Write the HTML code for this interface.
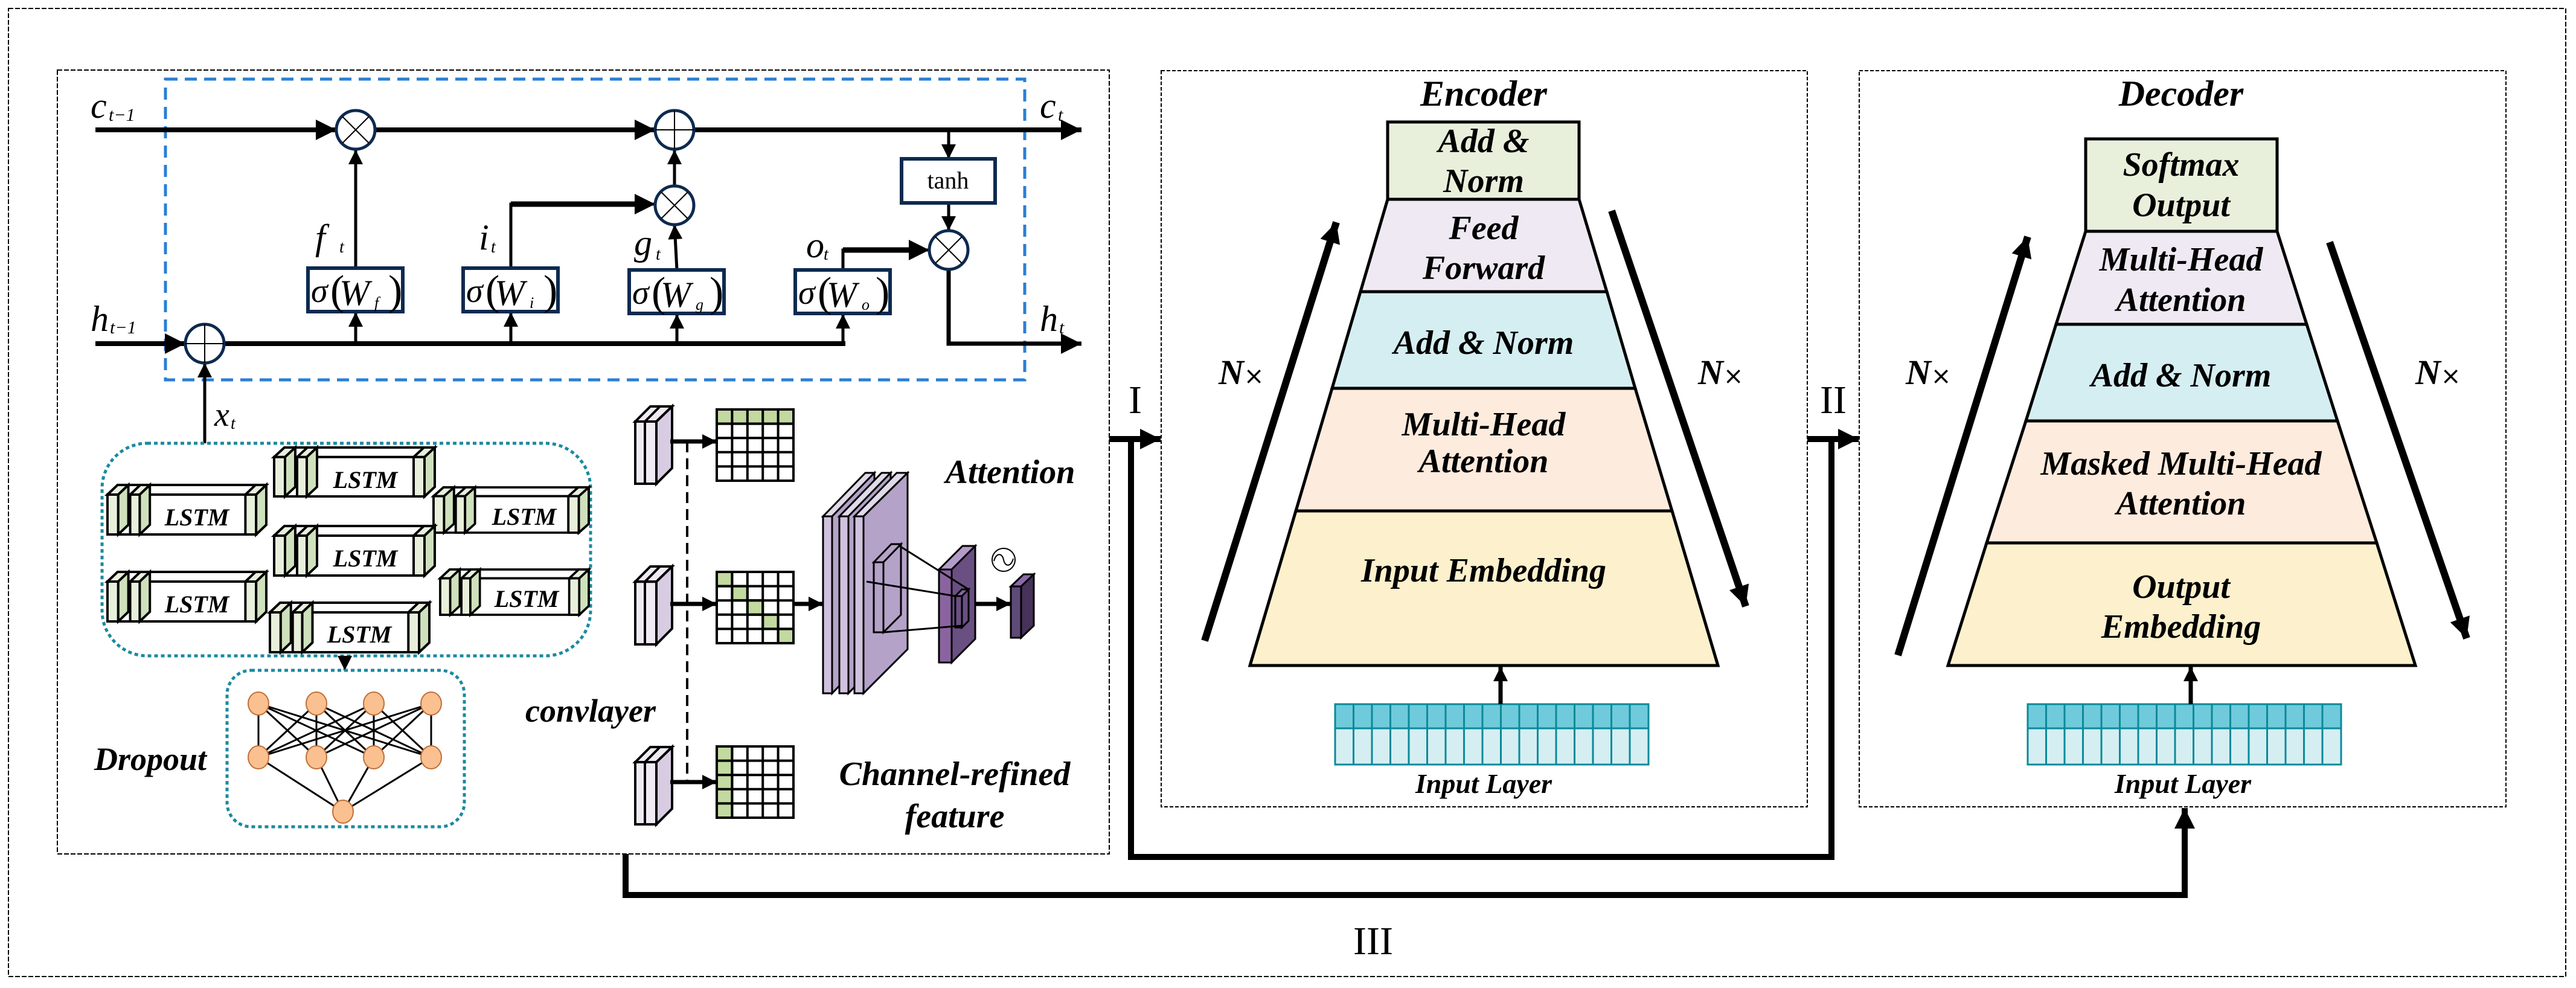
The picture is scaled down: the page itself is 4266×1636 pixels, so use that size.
<!DOCTYPE html>
<html><head><meta charset="utf-8"><style>
html,body{margin:0;padding:0;background:#fff;}
svg{display:block;}
text{font-family:"Liberation Serif",serif;}
.b{font-weight:bold;font-style:italic;}
.i{font-style:italic;}
</style></head><body>
<svg width="4266" height="1636" viewBox="0 0 4266 1636" xmlns="http://www.w3.org/2000/svg">
<defs>
<marker id="ah" viewBox="0 0 10 10" refX="10" refY="5" markerWidth="26" markerHeight="24" markerUnits="userSpaceOnUse" orient="auto"><path d="M0,0 L10,5 L0,10 z" fill="#000"/></marker>
<marker id="ahb" viewBox="0 0 10 10" refX="10" refY="5" markerWidth="36" markerHeight="34" markerUnits="userSpaceOnUse" orient="auto"><path d="M0,0 L10,5 L0,10 z" fill="#000"/></marker>
<symbol id="lstm" viewBox="0 0 266 82" overflow="visible" preserveAspectRatio="none">
 <g stroke="#000" stroke-width="4" stroke-linejoin="miter">
  <polygon points="0,16 17,0 266,0 249,16" fill="#fff"/>
  <polygon points="249,16 266,0 266,66 249,82" fill="#fff"/>
  <rect x="0" y="16" width="249" height="66" fill="#fff"/>
  <polygon points="0,16 17,0 35,0 18,16" fill="#e8f0dc"/>
  <rect x="0" y="16" width="18" height="66" fill="#e8f0dc"/>
  <polygon points="18,16 35,0 35,66 18,82" fill="#cfe0bc"/>
  <polygon points="38,16 55,0 71,0 54,16" fill="#e8f0dc"/>
  <rect x="38" y="16" width="16" height="66" fill="#e8f0dc"/>
  <polygon points="54,16 71,0 71,66 54,82" fill="#cfe0bc"/>
  <polygon points="231,16 248,0 266,0 249,16" fill="#e8f0dc"/>
  <rect x="231" y="16" width="18" height="66" fill="#e8f0dc"/>
  <polygon points="249,16 266,0 266,66 249,82" fill="#cfe0bc"/>
 </g>
</symbol>
<symbol id="conv" viewBox="0 0 61 128" overflow="visible" preserveAspectRatio="none">
 <g stroke="#000" stroke-width="4">
  <polygon points="0,25 25,0 61,0 35,25" fill="#efeaf3"/>
  <line x1="16" y1="25" x2="41" y2="0"/>
  <rect x="0" y="25" width="35" height="103" fill="#efeaf3"/>
  <line x1="16" y1="25" x2="16" y2="128"/>
  <polygon points="35,25 61,0 61,102 35,128" fill="#d8cce2"/>
 </g>
</symbol>
</defs>

<!-- outer border -->
<rect x="14" y="14" width="4235" height="1603" fill="none" stroke="#000" stroke-width="2" stroke-dasharray="8,3"/>
<!-- left box -->
<rect x="95" y="116" width="1742" height="1298" fill="none" stroke="#000" stroke-width="2" stroke-dasharray="8,3"/>
<!-- encoder/decoder boxes -->
<rect x="1923" y="117" width="1070" height="1219" fill="none" stroke="#000" stroke-width="2" stroke-dasharray="6,3"/>
<rect x="3079" y="117" width="1071" height="1219" fill="none" stroke="#000" stroke-width="2" stroke-dasharray="6,3"/>

<!-- LSTM cell dashed -->
<rect x="274" y="131" width="1423" height="498" fill="none" stroke="#2a7fd4" stroke-width="5" stroke-dasharray="20,12"/>

<g stroke="#000" fill="none">
 <!-- c line -->
 <line x1="158" y1="215" x2="557" y2="215" stroke-width="8" marker-end="url(#ahb)"/>
 <line x1="621" y1="215" x2="1085" y2="215" stroke-width="8" marker-end="url(#ahb)"/>
 <line x1="1149" y1="215" x2="1791" y2="215" stroke-width="8" marker-end="url(#ahb)"/>
 <!-- h line -->
 <line x1="158" y1="569" x2="307" y2="569" stroke-width="8" marker-end="url(#ahb)"/>
 <line x1="371" y1="569" x2="1400" y2="569" stroke-width="8"/>
 <polyline points="1571,446 1571,569 1791,569" stroke-width="7" marker-end="url(#ahb)"/>
 <!-- gate verticals -->
 <line x1="589" y1="569" x2="589" y2="517" stroke-width="5" marker-end="url(#ah)"/>
 <line x1="846" y1="569" x2="846" y2="517" stroke-width="5" marker-end="url(#ah)"/>
 <line x1="1121" y1="569" x2="1121" y2="520" stroke-width="5" marker-end="url(#ah)"/>
 <line x1="1396" y1="569" x2="1396" y2="520" stroke-width="5" marker-end="url(#ah)"/>
 <line x1="589" y1="444" x2="589" y2="248" stroke-width="5" marker-end="url(#ah)"/>
 <polyline points="846,444 846,338 1085,338" stroke-width="5" marker-end="url(#ahb)"/>
 <polyline points="846,338 1060,338" stroke-width="9"/>
 <line x1="1121" y1="447" x2="1117" y2="372" stroke-width="5" marker-end="url(#ah)"/>
 <line x1="1117" y1="308" x2="1117" y2="248" stroke-width="5" marker-end="url(#ah)"/>
 <polyline points="1396,447 1396,414 1539,414" stroke-width="5" marker-end="url(#ahb)"/>
 <polyline points="1396,414 1515,414" stroke-width="9"/>
 <line x1="1571" y1="215" x2="1571" y2="263" stroke-width="5" marker-end="url(#ah)"/>
 <line x1="1571" y1="336" x2="1571" y2="382" stroke-width="5" marker-end="url(#ah)"/>
 <line x1="339" y1="734" x2="339" y2="601" stroke-width="5" marker-end="url(#ah)"/>
</g>
<!-- circles -->
<g stroke="#0d2a4f" stroke-width="5" fill="#fff">
 <circle cx="589" cy="215" r="32"/>
 <circle cx="1117" cy="215" r="32"/>
 <circle cx="339" cy="569" r="32"/>
 <circle cx="1117" cy="340" r="32"/>
 <circle cx="1571" cy="414" r="32"/>
</g>
<g stroke="#000" stroke-width="2">
 <line x1="567" y1="193" x2="611" y2="237"/><line x1="611" y1="193" x2="567" y2="237"/>
 <line x1="1095" y1="318" x2="1139" y2="362"/><line x1="1139" y1="318" x2="1095" y2="362"/>
 <line x1="1549" y1="392" x2="1593" y2="436"/><line x1="1593" y1="392" x2="1549" y2="436"/>
 <line x1="1085" y1="215" x2="1149" y2="215"/><line x1="1117" y1="183" x2="1117" y2="247"/>
 <line x1="307" y1="569" x2="371" y2="569"/><line x1="339" y1="537" x2="339" y2="601"/>
</g>
<!-- tanh -->
<rect x="1493" y="263" width="155" height="73" fill="#fff" stroke="#0d2a4f" stroke-width="6"/>
<text x="1570" y="312" font-size="40" text-anchor="middle">tanh</text>
<!-- sigma boxes -->
<g stroke="#0d2a4f" stroke-width="6" fill="#fff">
 <rect x="510" y="444" width="157" height="72"/>
 <rect x="767" y="444" width="157" height="72"/>
 <rect x="1042" y="447" width="157" height="72"/>
 <rect x="1317" y="447" width="157" height="72"/>
</g>
<g font-size="56">
 <text x="515" y="500" class="i">σ</text><text x="547" y="504" font-size="70">(</text><text x="562" y="505" class="i" font-size="60">W</text><text x="620" y="510" class="i" font-size="26">f</text><text x="643" y="504" font-size="70">)</text>
 <text x="772" y="500" class="i">σ</text><text x="804" y="504" font-size="70">(</text><text x="819" y="505" class="i" font-size="60">W</text><text x="877" y="510" class="i" font-size="26">i</text><text x="900" y="504" font-size="70">)</text>
 <text x="1047" y="503" class="i">σ</text><text x="1079" y="507" font-size="70">(</text><text x="1094" y="508" class="i" font-size="60">W</text><text x="1152" y="513" class="i" font-size="26">g</text><text x="1175" y="507" font-size="70">)</text>
 <text x="1322" y="503" class="i">σ</text><text x="1354" y="507" font-size="70">(</text><text x="1369" y="508" class="i" font-size="60">W</text><text x="1427" y="513" class="i" font-size="26">o</text><text x="1450" y="507" font-size="70">)</text>
</g>
<!-- math labels -->
<g class="i">
 <text x="150" y="195" font-size="60" class="i">c</text><text x="180" y="200" font-size="30" class="i">t−1</text>
 <text x="1722" y="195" font-size="60" class="i">c</text><text x="1752" y="200" font-size="30" class="i">t</text>
 <text x="150" y="548" font-size="60" class="i">h</text><text x="182" y="552" font-size="30" class="i">t−1</text>
 <text x="1722" y="548" font-size="60" class="i">h</text><text x="1754" y="552" font-size="30" class="i">t</text>
 <text x="522" y="413" font-size="60" class="i">f</text><text x="562" y="418" font-size="28" class="i">t</text>
 <text x="793" y="413" font-size="60" class="i">i</text><text x="813" y="418" font-size="28" class="i">t</text>
 <text x="1050" y="422" font-size="60" class="i">g</text><text x="1086" y="430" font-size="28" class="i">t</text>
 <text x="1335" y="426" font-size="60" class="i">o</text><text x="1364" y="430" font-size="28" class="i">t</text>
 <text x="355" y="705" font-size="56" class="i">x</text><text x="382" y="710" font-size="28" class="i">t</text>
</g>

<!-- LSTM group -->
<rect x="169" y="734" width="809" height="352" rx="75" ry="75" fill="none" stroke="#1a8aa0" stroke-width="5" stroke-dasharray="6,5"/>
<use href="#lstm" x="178" y="803" width="263" height="82"/>
<use href="#lstm" x="454" y="741" width="266" height="81"/>
<use href="#lstm" x="718" y="807" width="257" height="75"/>
<use href="#lstm" x="454" y="871" width="266" height="82"/>
<use href="#lstm" x="178" y="947" width="263" height="82"/>
<use href="#lstm" x="729" y="943" width="246" height="75"/>
<use href="#lstm" x="447" y="998" width="264" height="82"/>
<g font-size="40" class="b" text-anchor="middle">
 <text x="326" y="870">LSTM</text>
 <text x="605" y="808">LSTM</text>
 <text x="868" y="869">LSTM</text>
 <text x="605" y="938">LSTM</text>
 <text x="326" y="1014">LSTM</text>
 <text x="872" y="1005">LSTM</text>
 <text x="595" y="1064">LSTM</text>
</g>
<line x1="571" y1="1086" x2="571" y2="1110" stroke="#000" stroke-width="4" marker-end="url(#ah)"/>
<!-- dropout -->
<rect x="376" y="1110" width="393" height="259" rx="40" ry="40" fill="none" stroke="#1a8aa0" stroke-width="5" stroke-dasharray="6,5"/>
<g stroke="#000" stroke-width="3">
 <line x1="428" y1="1165" x2="428" y2="1254"/><line x1="428" y1="1165" x2="524" y2="1254"/><line x1="428" y1="1165" x2="619" y2="1254"/><line x1="428" y1="1165" x2="714" y2="1254"/>
 <line x1="524" y1="1165" x2="428" y2="1254"/><line x1="524" y1="1165" x2="524" y2="1254"/><line x1="524" y1="1165" x2="619" y2="1254"/><line x1="524" y1="1165" x2="714" y2="1254"/>
 <line x1="619" y1="1165" x2="428" y2="1254"/><line x1="619" y1="1165" x2="524" y2="1254"/><line x1="619" y1="1165" x2="619" y2="1254"/><line x1="619" y1="1165" x2="714" y2="1254"/>
 <line x1="714" y1="1165" x2="428" y2="1254"/><line x1="714" y1="1165" x2="524" y2="1254"/><line x1="714" y1="1165" x2="619" y2="1254"/><line x1="714" y1="1165" x2="714" y2="1254"/>
 <line x1="428" y1="1254" x2="568" y2="1344"/><line x1="524" y1="1254" x2="568" y2="1344"/><line x1="619" y1="1254" x2="568" y2="1344"/><line x1="714" y1="1254" x2="568" y2="1344"/>
</g>
<g fill="#fbc08f" stroke="#c0703a" stroke-width="2">
 <ellipse cx="428" cy="1165" rx="17" ry="19"/><ellipse cx="524" cy="1165" rx="17" ry="19"/><ellipse cx="619" cy="1165" rx="17" ry="19"/><ellipse cx="714" cy="1165" rx="17" ry="19"/>
 <ellipse cx="428" cy="1254" rx="17" ry="19"/><ellipse cx="524" cy="1254" rx="17" ry="19"/><ellipse cx="619" cy="1254" rx="17" ry="19"/><ellipse cx="714" cy="1254" rx="17" ry="19"/>
 <ellipse cx="568" cy="1344" rx="17" ry="19"/>
</g>
<text x="249" y="1275" font-size="54" class="b" text-anchor="middle">Dropout</text>
<text x="978" y="1195" font-size="54" class="b" text-anchor="middle">convlayer</text>
<text x="1673" y="800" font-size="56" class="b" text-anchor="middle">Attention</text>
<text x="1581" y="1300" font-size="56" class="b" text-anchor="middle">Channel-refined</text>
<text x="1581" y="1370" font-size="56" class="b" text-anchor="middle">feature</text>

<!-- conv stacks & grids -->
<line x1="1138" y1="731" x2="1138" y2="1295" stroke="#000" stroke-width="4" stroke-dasharray="18,10"/>
<use href="#conv" x="1052" y="673" width="61" height="128"/>
<use href="#conv" x="1052" y="938" width="61" height="129"/>
<use href="#conv" x="1052" y="1237" width="61" height="128"/>
<g stroke="#000" stroke-width="7">
 <line x1="1110" y1="731" x2="1187" y2="731" marker-end="url(#ah)"/>
 <line x1="1110" y1="1000" x2="1187" y2="1000" marker-end="url(#ah)"/>
 <line x1="1110" y1="1295" x2="1187" y2="1295" marker-end="url(#ah)"/>
 <line x1="1314" y1="1000" x2="1363" y2="1000" marker-end="url(#ah)"/>
 <line x1="1615" y1="1000" x2="1674" y2="1000" marker-end="url(#ah)"/>
</g>
<!-- grid 1 -->
<g stroke="#000" stroke-width="4">
 <rect x="1187" y="678" width="127" height="118" fill="#fff"/>
 <rect x="1187" y="678" width="127" height="23.6" fill="#c2d9a0"/>
 <rect x="1187" y="947" width="127" height="118" fill="#fff"/>
 <rect x="1187" y="947" width="25.4" height="23.6" fill="#c2d9a0"/>
 <rect x="1212.4" y="970.6" width="25.4" height="23.6" fill="#c2d9a0"/>
 <rect x="1237.8" y="994.2" width="25.4" height="23.6" fill="#c2d9a0"/>
 <rect x="1263.2" y="1017.8" width="25.4" height="23.6" fill="#c2d9a0"/>
 <rect x="1288.6" y="1041.4" width="25.4" height="23.6" fill="#c2d9a0"/>
 <rect x="1187" y="1236" width="127" height="118" fill="#fff"/>
 <rect x="1187" y="1236" width="25.4" height="118" fill="#c2d9a0"/>
 <path d="M1212.4,678V796M1237.8,678V796M1263.2,678V796M1288.6,678V796M1187,701.6H1314M1187,725.2H1314M1187,748.8H1314M1187,772.4H1314" fill="none"/>
 <path d="M1212.4,947V1065M1237.8,947V1065M1263.2,947V1065M1288.6,947V1065M1187,970.6H1314M1187,994.2H1314M1187,1017.8H1314M1187,1041.4H1314" fill="none"/>
 <path d="M1212.4,1236V1354M1237.8,1236V1354M1263.2,1236V1354M1288.6,1236V1354M1187,1259.6H1314M1187,1283.2H1314M1187,1306.8H1314M1187,1330.4H1314" fill="none"/>
</g>
<!-- big purple block -->
<g stroke="#000" stroke-width="3">
 <polygon points="1363,855 1433,783 1448,783 1378,855" fill="#e0dbe8"/>
 <polygon points="1378,855 1448,783 1448,1076 1378,1148" fill="#b5a2c9"/>
 <rect x="1363" y="855" width="15" height="293" fill="#d0c2de"/>
 <polygon points="1390,855 1460,783 1475,783 1405,855" fill="#e0dbe8"/>
 <polygon points="1405,855 1475,783 1475,1076 1405,1148" fill="#b5a2c9"/>
 <rect x="1390" y="855" width="15" height="293" fill="#d0c2de"/>
 <polygon points="1415,855 1485,783 1503,783 1430,855" fill="#e0dbe8"/>
 <polygon points="1430,855 1503,783 1503,1075 1430,1148" fill="#b5a2c9"/>
 <rect x="1415" y="855" width="15" height="293" fill="#d0c2de"/>
 <polygon points="1447,931 1476,901 1492,901 1463,931" fill="#b5a2c9"/>
 <polygon points="1463,931 1492,901 1492,1018 1463,1047" fill="#b5a2c9"/>
 <rect x="1447" y="931" width="16" height="116" fill="#b5a2c9"/>
 <polygon points="1555,943 1594,904 1615,904 1576,943" fill="#b49cc8"/>
 <polygon points="1576,943 1615,904 1615,1058 1576,1097" fill="#6a5082"/>
 <rect x="1555" y="943" width="21" height="154" fill="#8a64a0"/>
 <polygon points="1582,987 1593,976 1604,976 1593,987" fill="#8a64a0"/>
 <rect x="1582" y="987" width="11" height="52" fill="#6a5082"/>
 <polygon points="1593,987 1604,976 1604,1028 1593,1039" fill="#6a5082"/>
 <line x1="1488" y1="903" x2="1604" y2="976" stroke-width="3"/>
 <line x1="1435" y1="963" x2="1582" y2="987" stroke-width="3"/>
 <line x1="1463" y1="1047" x2="1593" y2="1036" stroke-width="3"/>
 <polygon points="1674,971 1695,951 1712,951 1691,971" fill="#8a6aa8"/>
 <polygon points="1691,971 1712,951 1712,1036 1691,1056" fill="#47325a"/>
 <rect x="1674" y="971" width="17" height="85" fill="#5e4a78"/>
</g>
<circle cx="1662" cy="927" r="19" fill="none" stroke="#000" stroke-width="2"/>
<path d="M1646,929 C1650,914 1660,916 1662,927 C1664,938 1674,940 1678,925" fill="none" stroke="#000" stroke-width="2"/>

<!-- Encoder -->
<g stroke="#000" stroke-width="5">
 <rect x="2298" y="202" width="317" height="128" fill="#e8f0dc"/>
 <polygon points="2298,330 2615,330 2661,483 2253,483" fill="#eee9f2"/>
 <polygon points="2253,483 2661,483 2708,643 2206,643" fill="#d5eef2"/>
 <polygon points="2206,643 2708,643 2769,846 2146,846" fill="#fdebdd"/>
 <polygon points="2146,846 2769,846 2845,1102 2070,1102" fill="#fdf0cc"/>
</g>
<g font-size="56" class="b" text-anchor="middle">
 <text x="2457" y="175" font-size="60">Encoder</text>
 <text x="2457" y="252">Add &amp;</text>
 <text x="2457" y="318">Norm</text>
 <text x="2457" y="396">Feed</text>
 <text x="2457" y="462">Forward</text>
 <text x="2457" y="586">Add &amp; Norm</text>
 <text x="2457" y="721">Multi-Head</text>
 <text x="2457" y="782">Attention</text>
 <text x="2457" y="963">Input Embedding</text>
 <text x="2457" y="1313" font-size="46">Input Layer</text>
</g>
<!-- Decoder -->
<g stroke="#000" stroke-width="5">
 <rect x="3454" y="230" width="317" height="153" fill="#e8f0dc"/>
 <polygon points="3454,383 3771,383 3820,537 3405,537" fill="#eee9f2"/>
 <polygon points="3405,537 3820,537 3871,697 3355,697" fill="#d5eef2"/>
 <polygon points="3355,697 3871,697 3936,899 3290,899" fill="#fdebdd"/>
 <polygon points="3290,899 3936,899 4000,1102 3226,1102" fill="#fdf0cc"/>
</g>
<g font-size="56" class="b" text-anchor="middle">
 <text x="3612" y="175" font-size="60">Decoder</text>
 <text x="3612" y="291">Softmax</text>
 <text x="3612" y="358">Output</text>
 <text x="3612" y="448">Multi-Head</text>
 <text x="3612" y="515">Attention</text>
 <text x="3612" y="640">Add &amp; Norm</text>
 <text x="3612" y="786">Masked Multi-Head</text>
 <text x="3612" y="852">Attention</text>
 <text x="3612" y="990">Output</text>
 <text x="3612" y="1056">Embedding</text>
 <text x="3615" y="1313" font-size="46">Input Layer</text>
</g>
<!-- input layers -->
<g stroke="#0a8a9a" stroke-width="3">
 <rect x="2211" y="1166" width="519" height="40" fill="#6fcbdb"/>
 <rect x="2211" y="1206" width="519" height="60" fill="#d5eef2"/>
 <rect x="3358" y="1166" width="519" height="40" fill="#6fcbdb"/>
 <rect x="3358" y="1206" width="519" height="60" fill="#d5eef2"/>
 <path d="M2241.5,1166V1266M2272,1166V1266M2302.5,1166V1266M2333,1166V1266M2363.5,1166V1266M2394,1166V1266M2424.5,1166V1266M2455,1166V1266M2485.5,1166V1266M2516,1166V1266M2546.5,1166V1266M2577,1166V1266M2607.5,1166V1266M2638,1166V1266M2668.5,1166V1266M2699,1166V1266" fill="none"/>
 <path d="M3388.5,1166V1266M3419,1166V1266M3449.5,1166V1266M3480,1166V1266M3510.5,1166V1266M3541,1166V1266M3571.5,1166V1266M3602,1166V1266M3632.5,1166V1266M3663,1166V1266M3693.5,1166V1266M3724,1166V1266M3754.5,1166V1266M3785,1166V1266M3815.5,1166V1266M3846,1166V1266" fill="none"/>
</g>
<g stroke="#000" stroke-width="7">
 <line x1="2485" y1="1166" x2="2485" y2="1104" marker-end="url(#ah)"/>
 <line x1="3628" y1="1166" x2="3628" y2="1104" marker-end="url(#ah)"/>
</g>
<!-- N x arrows -->
<g stroke="#000" stroke-width="12">
 <line x1="1995" y1="1061" x2="2213" y2="368" marker-end="url(#ahb)"/>
 <line x1="2669" y1="349" x2="2891" y2="1004" marker-end="url(#ahb)"/>
 <line x1="3143" y1="1085" x2="3358" y2="392" marker-end="url(#ahb)"/>
 <line x1="3858" y1="401" x2="4085" y2="1057" marker-end="url(#ahb)"/>
</g>
<g font-size="58" class="b">
 <text x="2018" y="636">N<tspan font-style="normal" font-weight="normal" font-family="DejaVu Sans" font-size="40">×</tspan></text>
 <text x="2812" y="636">N<tspan font-style="normal" font-weight="normal" font-family="DejaVu Sans" font-size="40">×</tspan></text>
 <text x="3156" y="636">N<tspan font-style="normal" font-weight="normal" font-family="DejaVu Sans" font-size="40">×</tspan></text>
 <text x="4000" y="636">N<tspan font-style="normal" font-weight="normal" font-family="DejaVu Sans" font-size="40">×</tspan></text>
</g>

<!-- connectors -->
<g stroke="#000" fill="none" stroke-width="10" stroke-linejoin="miter">
 <line x1="1837" y1="727" x2="1922" y2="727" marker-end="url(#ahb)"/>
 <polyline points="1873,727 1873,1419 3033,1419 3033,727"/>
 <line x1="2993" y1="727" x2="3078" y2="727" marker-end="url(#ahb)"/>
 <polyline points="1036,1414 1036,1482 3618,1482 3618,1338" marker-end="url(#ahb)"/>
</g>
<g font-size="66" text-anchor="middle">
 <text x="1880" y="684">I</text>
 <text x="3036" y="684">II</text>
 <text x="2274" y="1580">III</text>
</g>
</svg>
</body></html>
